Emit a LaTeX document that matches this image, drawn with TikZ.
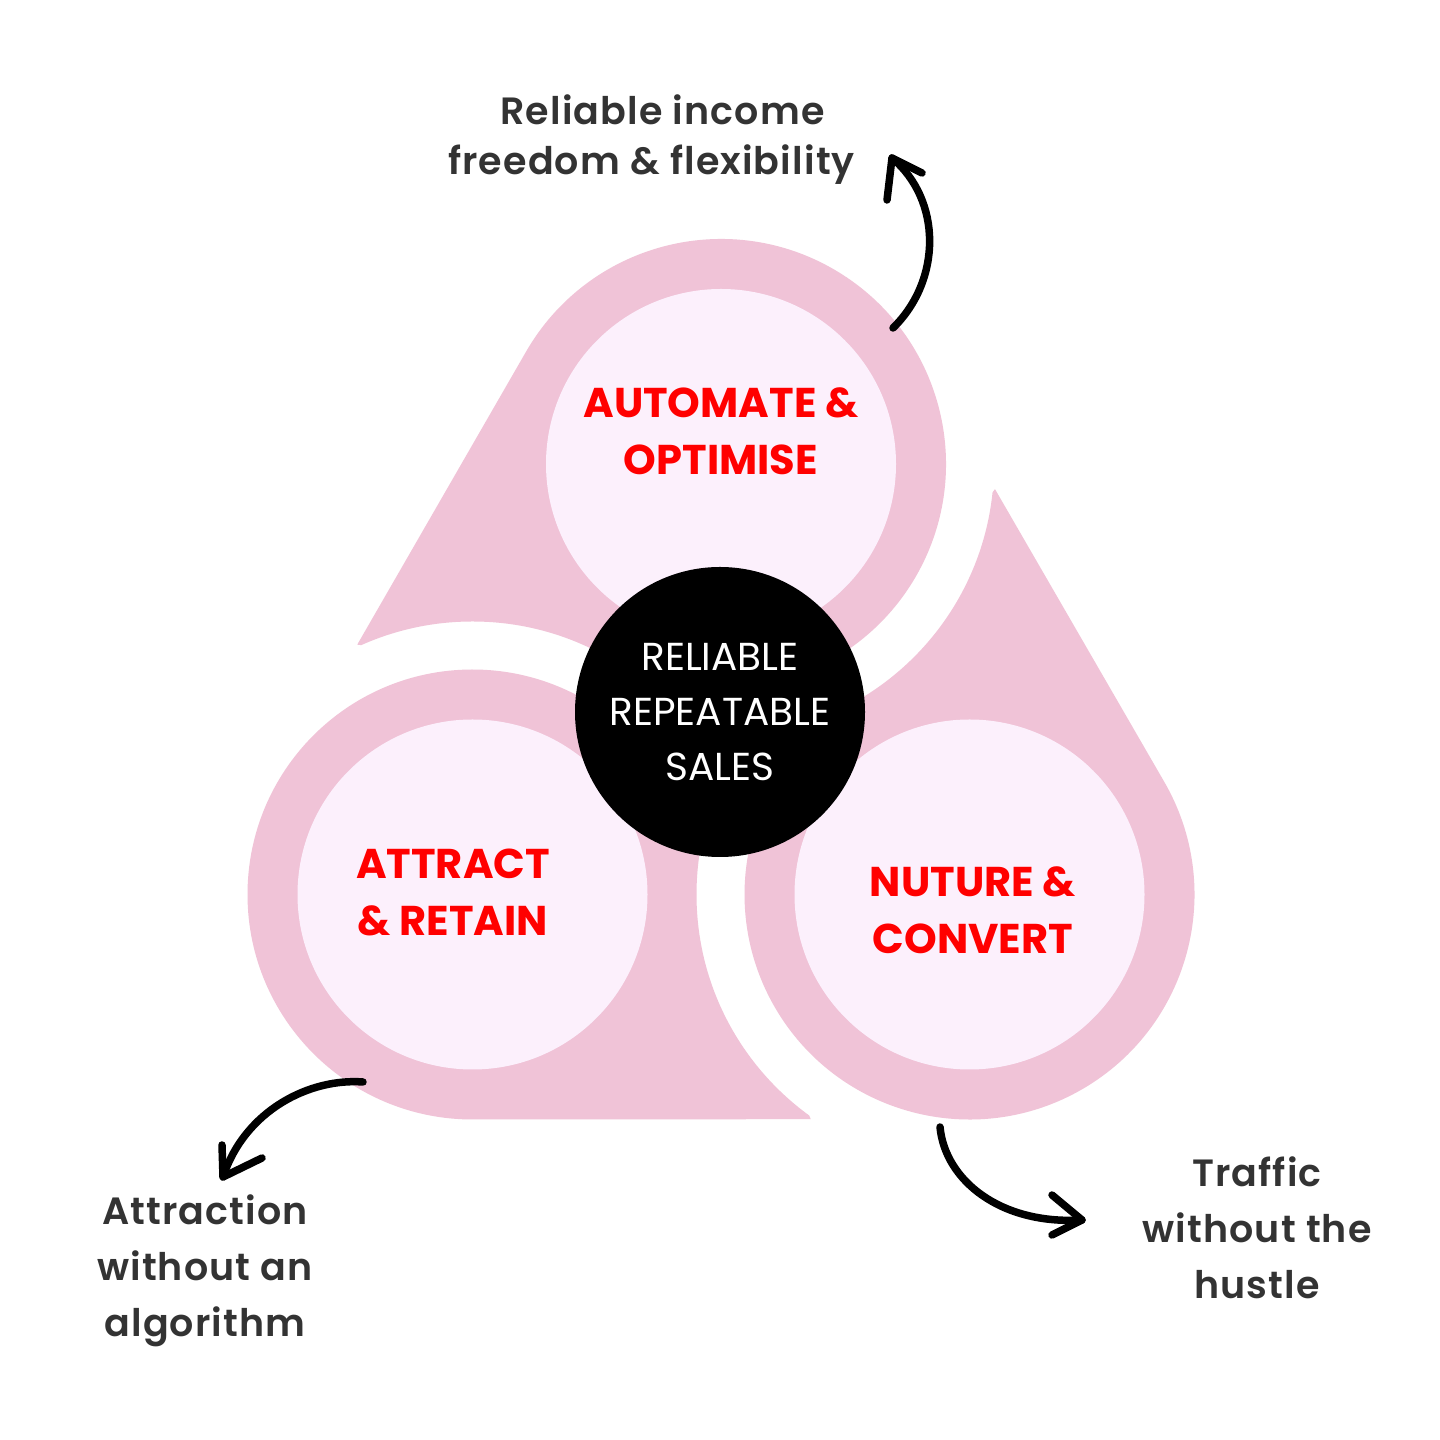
\documentclass[tikz,border=0pt]{standalone}
\usepackage{fontspec}
\setmainfont{Poppins}
\IfFontExistsTF{Poppins SemiBold}{\newfontfamily\semib{Poppins SemiBold}[LetterSpace=3]}{\newfontfamily\semib{Poppins Bold}[LetterSpace=3]}
\usetikzlibrary{calc}
\definecolor{pinkc}{RGB}{240,195,215}
\definecolor{lightc}{RGB}{252,240,252}
\definecolor{redc}{RGB}{255,0,0}
\definecolor{grayc}{RGB}{51,51,51}
\tikzset{
  outcome/.style={text=grayc, align=center, font=\semib\fontsize{38}{56}\selectfont},
  outcometight/.style={text=grayc, align=center, font=\semib\fontsize{38}{50}\selectfont},
  stagelabel/.style={text=redc, align=center, font=\bfseries\fontsize{41.6}{57}\selectfont},
  corelabel/.style={text=white, align=center, font=\fontsize{39}{55}\selectfont},
  handarrow/.style={draw=black, line width=7.5pt, line cap=round, line join=round},
  petal/.style={fill=pinkc},
  innerdisc/.style={fill=lightc},
}
\begin{document}
\begin{tikzpicture}[x=1pt,y=1pt]
\useasboundingbox (0,0) rectangle (1440,1440);
\fill[white] (0,0) rectangle (1440,1440);
% centres
\coordinate (G) at (721,689);
\coordinate (Ctop) at (721,976);
\coordinate (CBL) at (472.5,545.5);
\coordinate (CBR) at (969.5,545.5);
\coordinate (Ttop) at ($(G)+(163.7:379pt)$);
\coordinate (TBL) at ($(G)+(283.7:379pt)$);
\coordinate (TBR) at ($(G)+(43.7:379pt)$);
% top petal, cut by ring round bottom-left circle
\begin{scope}[even odd rule]
  \clip (-100,-100) rectangle (1540,1540) (CBL) circle[radius=273pt];
  \fill[petal] (Ttop) -- ($(Ctop)+(150.2:225pt)$) arc[start angle=150.2, end angle=-97.2, radius=225pt] -- cycle;
\end{scope}
% bottom-left petal, cut by ring round bottom-right circle
\begin{scope}[even odd rule]
  \clip (-100,-100) rectangle (1540,1540) (CBR) circle[radius=273pt];
  \fill[petal] (TBL) -- ($(CBL)+(270.2:225pt)$) arc[start angle=270.2, end angle=22.8, radius=225pt] -- cycle;
\end{scope}
% bottom-right petal, cut by ring round top circle
\begin{scope}[even odd rule]
  \clip (-100,-100) rectangle (1540,1540) (Ctop) circle[radius=273pt];
  \fill[petal] (TBR) -- ($(CBR)+(30.2:225pt)$) arc[start angle=30.2, end angle=-217.2, radius=225pt] -- cycle;
\end{scope}
% inner discs
\fill[innerdisc] (Ctop) circle[radius=175pt];
\fill[innerdisc] (CBL) circle[radius=175pt];
\fill[innerdisc] (CBR) circle[radius=175pt];
% centre
\fill[black] (720,728) circle[radius=145pt];
\node[corelabel] (core) at (720,728) {RELIABLE\\REPEATABLE\\SALES};
% stage labels
\node[stagelabel] (automate) at (721,1009) {AUTOMATE \&\\OPTIMISE};
\node[stagelabel] (attract) at (453,548) {ATTRACT\\\& RETAIN};
\node[stagelabel] (nurture) at (973,530) {NUTURE \&\\CONVERT};
% outcome labels
\node[outcometight] (income) at (651.5,1300.5) {\hspace*{22pt}Reliable income\\freedom \& flexibility};
\node[outcome] (attraction) at (205,169) {Attraction\\without an\\algorithm};
\node[outcome] (traffic) at (1257,212) {Traffic\\without the\\hustle};
% arrows
\coordinate (a1s) at (893,1112);
\coordinate (a1t) at (892,1282);
\coordinate (a1l) at (887,1240);
\coordinate (a1r) at (922,1267);
\draw[handarrow] (a1s) .. controls (942,1160) and (942,1240) .. (a1t);
\draw[handarrow] (a1l) -- (a1t) -- (a1r);
\coordinate (a2s) at (363,358);
\coordinate (a2t) at (223,263);
\coordinate (a2l) at (222,295);
\coordinate (a2r) at (262,282);
\draw[handarrow] (a2s) .. controls (310,362) and (245,330) .. (a2t);
\draw[handarrow] (a2l) -- (a2t) -- (a2r);
\coordinate (a3s) at (940,313);
\coordinate (a3t) at (1082,220);
\coordinate (a3l) at (1052,245);
\coordinate (a3r) at (1052,205);
\draw[handarrow] (a3s) .. controls (945,260) and (1000,215) .. (a3t);
\draw[handarrow] (a3l) -- (a3t) -- (a3r);
\end{tikzpicture}
\end{document}
